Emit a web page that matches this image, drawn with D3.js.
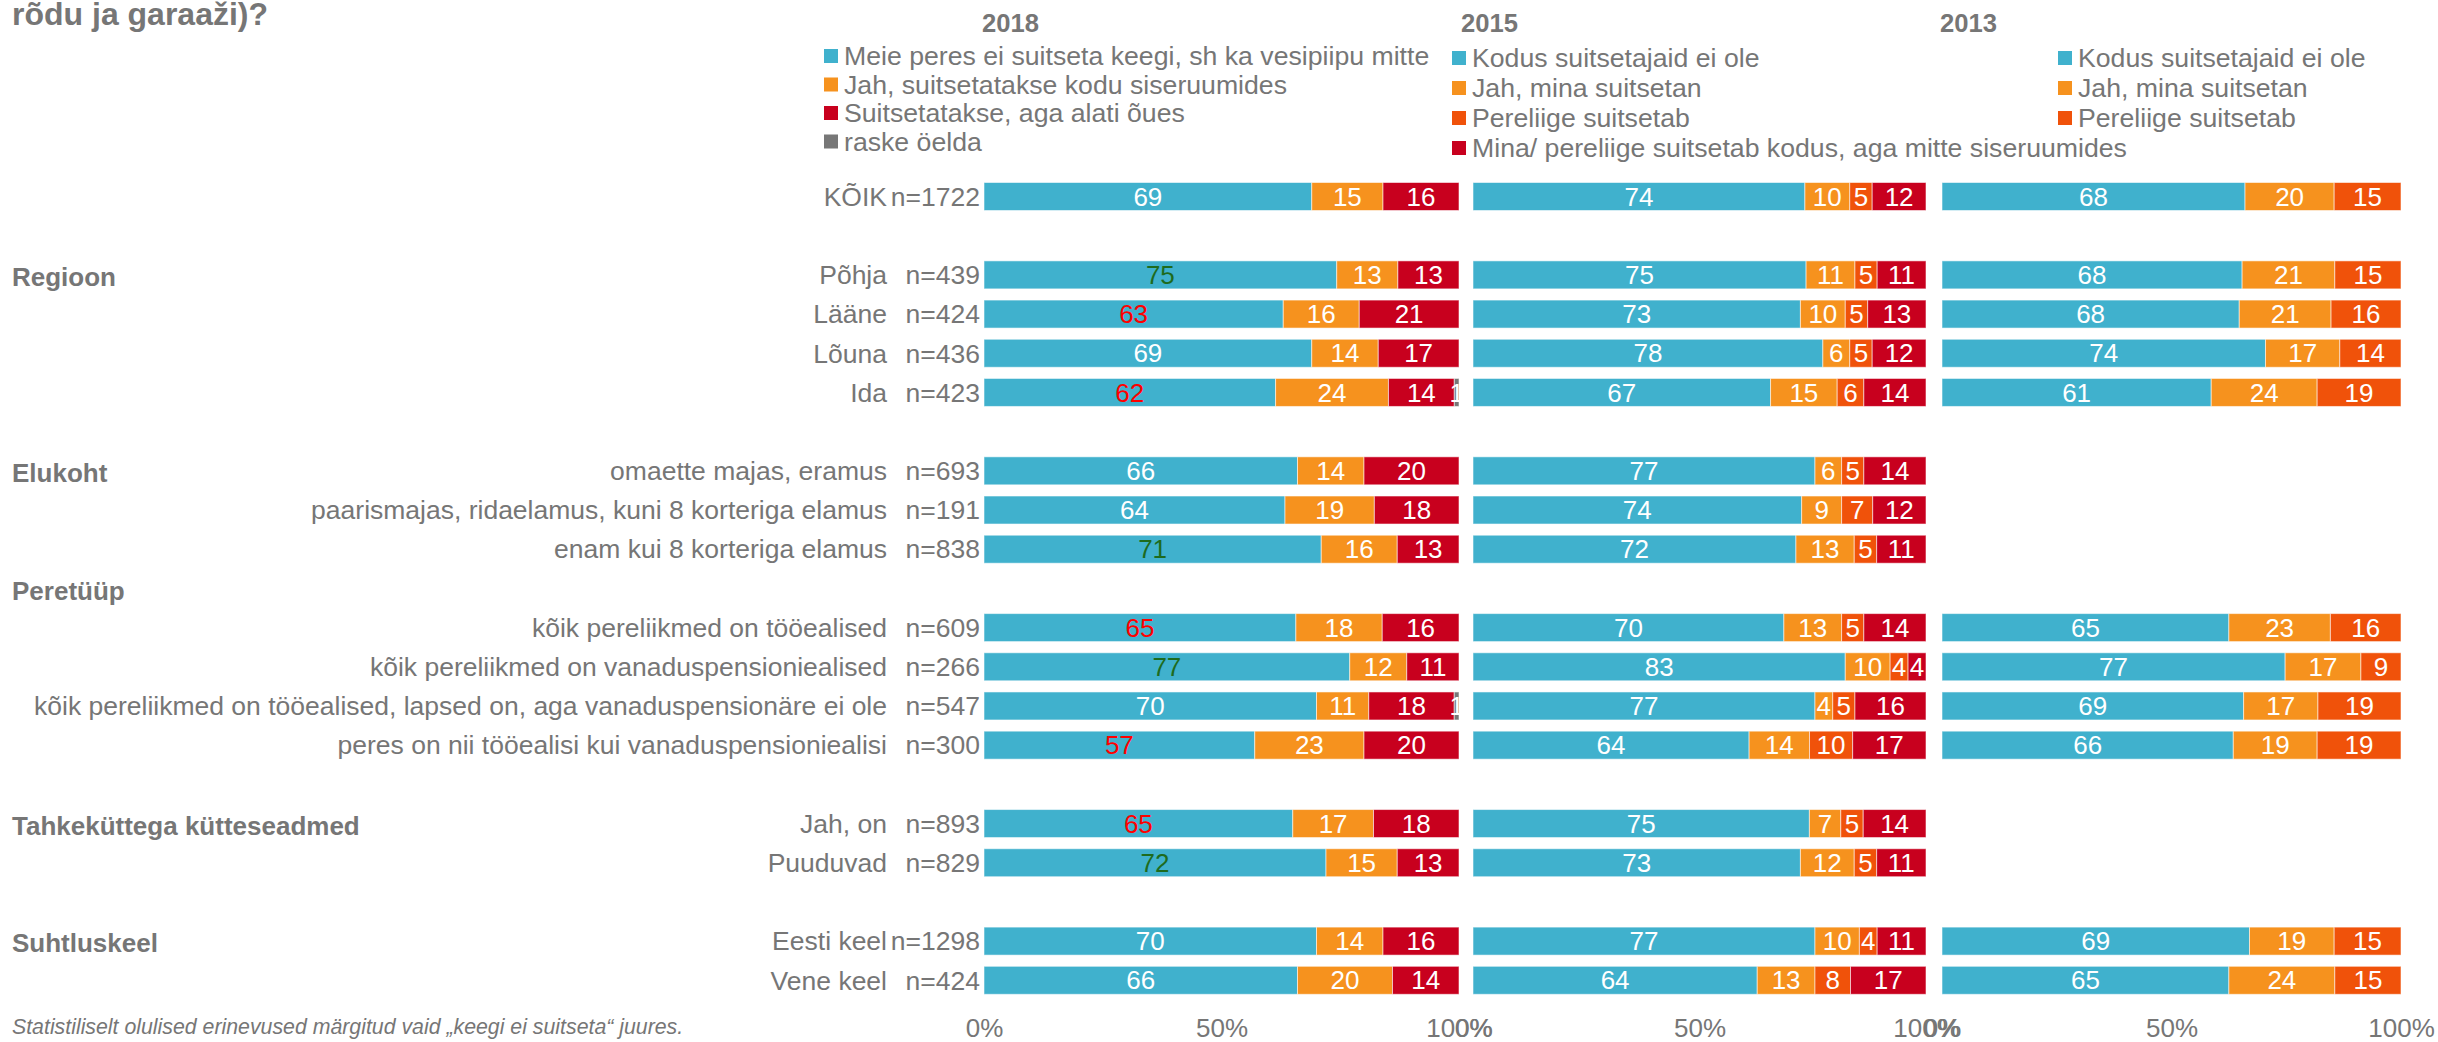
<!DOCTYPE html>
<html><head><meta charset="utf-8">
<script src="https://cdn.jsdelivr.net/npm/d3@7/dist/d3.min.js"></script>
<style>
html,body{margin:0;padding:0;background:#fff;}
svg text{font-family:"Liberation Sans",Arial,sans-serif;}
</style></head><body>
<svg id="chart" width="2438" height="1042"></svg>
<script>
// ---------------- DATA ----------------
const titleText = "rõdu ja garaaži)?";
const footnote = "Statistiliselt olulised erinevused märgitud vaid „keegi ei suitseta“ juures.";
const years = ["2018", "2015", "2013"];

const categories = [
  "KÕIK", "Põhja", "Lääne", "Lõuna", "Ida",
  "omaette majas, eramus", "paarismajas, ridaelamus, kuni 8 korteriga elamus", "enam kui 8 korteriga elamus",
  "kõik pereliikmed on tööealised", "kõik pereliikmed on vanaduspensioniealised",
  "kõik pereliikmed on tööealised, lapsed on, aga vanaduspensionäre ei ole",
  "peres on nii tööealisi kui vanaduspensioniealisi",
  "Jah, on", "Puuduvad", "Eesti keel", "Vene keel"
];
const sampleSizes = ["n=1722","n=439","n=424","n=436","n=423","n=693","n=191","n=838",
  "n=609","n=266","n=547","n=300","n=893","n=829","n=1298","n=424"];

const groupNames   = ["Regioon", "Elukoht", "Peretüüp", "Tahkeküttega kütteseadmed", "Suhtluskeel"];

// 2018 series
const legend2018 = ["Meie peres ei suitseta keegi, sh ka vesipiipu mitte", "Jah, suitsetatakse kodu siseruumides",
  "Suitsetatakse, aga alati õues", "raske öelda"];
const s2018_none    = [69,75,63,69,62,66,64,71,65,77,70,57,65,72,70,66];
const s2018_inside  = [15,13,16,14,24,14,19,16,18,12,11,23,17,15,14,20];
const s2018_outside = [16,13,21,17,14,20,18,13,16,11,18,20,18,13,16,14];
const s2018_hard    = [0,0,0,0,1,0,0,0,0,0,1,0,0,0,0,0];
const s2018_signif  = ["","up","down","","down","","","up","down","up","","down","down","up","",""];

// 2015 series
const legend2015 = ["Kodus suitsetajaid ei ole", "Jah, mina suitsetan", "Pereliige suitsetab",
  "Mina/ pereliige suitsetab kodus, aga mitte siseruumides"];
const s2015_none    = [74,75,73,78,67,77,74,72,70,83,77,64,75,73,77,64];
const s2015_me      = [10,11,10,6,15,6,9,13,13,10,4,14,7,12,10,13];
const s2015_member  = [5,5,5,5,6,5,7,5,5,4,5,10,5,5,4,8];
const s2015_outside = [12,11,13,12,14,14,12,11,14,4,16,17,14,11,11,17];

// 2013 series (null = not asked)
const legend2013 = ["Kodus suitsetajaid ei ole", "Jah, mina suitsetan", "Pereliige suitsetab"];
const s2013_none   = [68,68,68,74,61,null,null,null,65,77,69,66,null,null,69,65];
const s2013_me     = [20,21,21,17,24,null,null,null,23,17,17,19,null,null,19,24];
const s2013_member = [15,15,16,14,19,null,null,null,16,9,19,19,null,null,15,15];

const tickValues = [0, 0.5, 1];

// ---------------- LAYOUT / STYLE ----------------
const C = {blue:"#40B1CD", orange:"#F6921E", red:"#C8001E", orangeRed:"#F0520A", gray:"#777777"};
const textGray = "#767676";
const signifColor = {up:"#1E6B1E", down:"#FF0000"};

// row slots (gaps and a header-only row included)
const rowOrder = [categories[0], "gap1", categories[1], categories[2], categories[3], categories[4], "gap2",
  categories[5], categories[6], categories[7], "hdr:" + groupNames[2],
  categories[8], categories[9], categories[10], categories[11], "gap3",
  categories[12], categories[13], "gap4", categories[14], categories[15]];
const groupAnchor = [categories[1], categories[5], "hdr:" + groupNames[2], categories[12], categories[14]];

const svg = d3.select("#chart");
const y = d3.scalePoint().domain(rowOrder).range([196.5, 980.3]);
const barH = 28;

const panels = [
  {year: years[0], range: [984, 1459],
   series: [s2018_none, s2018_inside, s2018_outside, s2018_hard],
   colors: [C.blue, C.orange, C.red, C.gray], legend: legend2018,
   legendX: 824, legendY: [56, 84.5, 113, 141.5], headX: 982},
  {year: years[1], range: [1473, 1926],
   series: [s2015_none, s2015_me, s2015_member, s2015_outside],
   colors: [C.blue, C.orange, C.orangeRed, C.red], legend: legend2015,
   legendX: 1452, legendY: [58, 88, 118, 148], headX: 1461},
  {year: years[2], range: [1942, 2401],
   series: [s2013_none, s2013_me, s2013_member],
   colors: [C.blue, C.orange, C.orangeRed], legend: legend2013,
   legendX: 2058, legendY: [58, 88, 118], headX: 1940}
];

const fs = 26.5;

// Title
svg.append("text").attr("x", 12).attr("y", 25)
  .attr("font-size", 32).attr("font-weight", "bold").attr("fill", textGray).text(titleText);

// Group headers
groupNames.forEach((g, i) => {
  svg.append("text").attr("x", 12).attr("y", y(groupAnchor[i]) + 2).attr("dy", "0.35em")
    .attr("font-size", 26).attr("font-weight", "bold").attr("fill", textGray).text(g);
});

// Category + n labels
categories.forEach((c, i) => {
  svg.append("text").attr("x", 887).attr("y", y(c)).attr("dy", "0.35em")
    .attr("text-anchor", "end").attr("font-size", fs).attr("fill", textGray).text(c);
  svg.append("text").attr("x", 980).attr("y", y(c)).attr("dy", "0.35em")
    .attr("text-anchor", "end").attr("font-size", fs).attr("fill", textGray).text(sampleSizes[i]);
});

panels.forEach((p, pi) => {
  const x = d3.scaleLinear().domain([0, 1]).range(p.range);
  const g = svg.append("g");

  // year header
  svg.append("text").attr("x", p.headX).attr("y", 32).attr("font-size", 25.6)
    .attr("font-weight", "bold").attr("fill", textGray).text(p.year);

  // legend
  p.legend.forEach((l, li) => {
    svg.append("rect").attr("x", p.legendX).attr("y", p.legendY[li] - 7)
      .attr("width", 14).attr("height", 14).attr("fill", p.colors[li]);
    svg.append("text").attr("x", p.legendX + 20).attr("y", p.legendY[li]).attr("dy", "0.35em")
      .attr("font-size", 26.67).attr("fill", textGray).text(l);
  });

  // stacked, normalized bars
  categories.forEach((c, i) => {
    const vals = p.series.map(s => s[i]);
    if (vals[0] === null) return;
    const total = d3.sum(vals);
    let cum = 0;
    vals.forEach((v, si) => {
      const x0 = x(cum / total), x1 = x((cum + v) / total);
      cum += v;
      if (v <= 0) return;
      g.append("rect").attr("x", x0).attr("y", y(c) - barH / 2)
        .attr("width", x1 - x0).attr("height", barH)
        .attr("fill", p.colors[si]).attr("stroke", "rgba(255,255,255,0.55)").attr("stroke-width", 1);
    });
    cum = 0;
    vals.forEach((v, si) => {
      const x0 = x(cum / total), x1 = x((cum + v) / total);
      cum += v;
      if (v <= 0) return;
      let col = "#ffffff";
      if (pi === 0 && si === 0 && s2018_signif[i]) col = signifColor[s2018_signif[i]];
      g.append("text").attr("x", (x0 + x1) / 2).attr("y", y(c)).attr("dy", "0.35em")
        .attr("text-anchor", "middle").attr("font-size", 26).attr("fill", col).text(v);
    });
  });

  // axis
  const ax = svg.append("g").attr("transform", "translate(0,1019)")
    .call(d3.axisBottom(x).tickValues(tickValues).tickFormat(d3.format(".0%")).tickSize(0).tickPadding(0));
  ax.select(".domain").remove();
  ax.selectAll("text").attr("font-size", 26).attr("fill", textGray)
    .attr("font-family", "'Liberation Sans', Arial, sans-serif");
});

// footnote
svg.append("text").attr("x", 12).attr("y", 1034).attr("font-size", 21.3)
  .attr("font-style", "italic").attr("fill", textGray).text(footnote);
</script>
</body></html>
